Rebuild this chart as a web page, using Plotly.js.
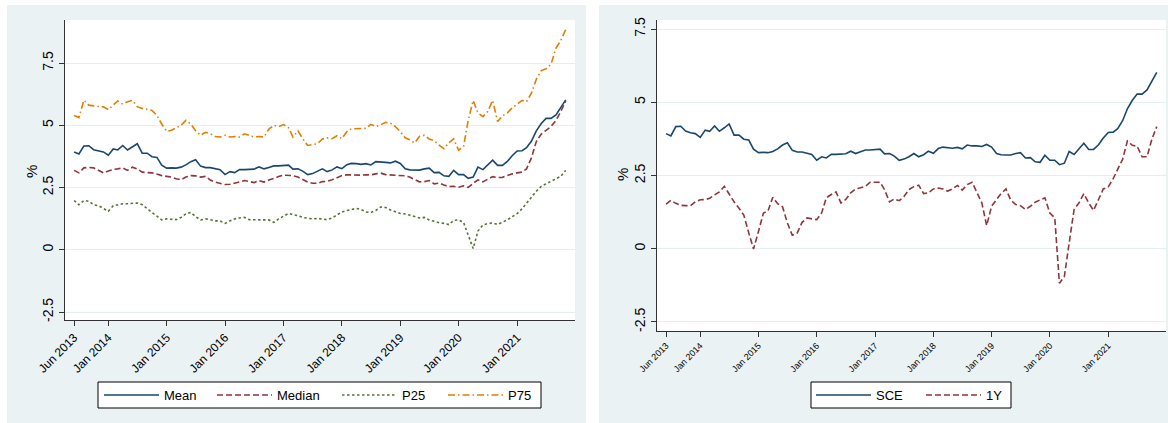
<!DOCTYPE html>
<html>
<head>
<meta charset="utf-8">
<script src="https://cdn.plot.ly/plotly-3.0.1.min.js"></script>
<style>html,body{margin:0;padding:0;background:#fff;}#chart{width:1168px;height:423px;}</style>
</head>
<body>
<div id="chart"></div>
<script>
// ---- data ----
const startYear = 2013, startMonth = 6, nMonths = 102; // Jun 2013 .. Nov 2021
const tickDates = ['2013-06-01','2014-01-01','2015-01-01','2016-01-01','2017-01-01','2018-01-01','2019-01-01','2020-01-01','2021-01-01'];
const tickLabels = ['Jun 2013','Jan 2014','Jan 2015','Jan 2016','Jan 2017','Jan 2018','Jan 2019','Jan 2020','Jan 2021'];
const yTickVals = [-2.5, 0, 2.5, 5, 7.5];
const yTickText = ['-2.5', '0', '2.5', '5', '7.5'];
const leftNames = ['Mean', 'Median', 'P25', 'P75'];
const rightNames = ['SCE', '1Y'];
const yTitle = '%';

const meanVals = [3.93,3.85,4.17,4.18,4.02,3.96,3.93,3.80,4.05,4.01,4.19,4.01,4.13,4.26,3.88,3.88,3.74,3.71,3.40,3.28,
  3.29,3.28,3.32,3.41,3.54,3.62,3.36,3.30,3.30,3.27,3.22,3.02,3.14,3.10,3.22,3.22,3.22,3.24,3.33,3.25,
  3.31,3.37,3.37,3.39,3.40,3.24,3.25,3.16,3.02,3.06,3.14,3.25,3.14,3.21,3.33,3.26,3.42,3.47,3.46,3.43,
  3.46,3.41,3.54,3.51,3.51,3.49,3.56,3.47,3.25,3.21,3.20,3.20,3.25,3.28,3.10,3.11,2.97,2.95,3.19,3.02,
  3.02,2.87,2.92,3.32,3.22,3.41,3.60,3.39,3.39,3.55,3.78,3.97,3.98,4.10,4.37,4.78,5.07,5.28,5.28,5.42,
  5.70,6.02];
const medianVals = [3.19,3.09,3.29,3.31,3.29,3.19,3.09,3.16,3.23,3.25,3.29,3.19,3.32,3.25,3.12,3.10,3.09,3.04,2.98,2.95,
  2.92,2.85,2.81,2.92,2.98,2.97,2.92,2.95,2.80,2.72,2.67,2.62,2.63,2.68,2.73,2.78,2.74,2.70,2.78,2.72,
  2.80,2.88,2.94,3.00,3.00,2.98,2.92,2.82,2.72,2.67,2.67,2.74,2.75,2.81,2.89,2.98,3.01,3.00,3.00,3.00,
  3.01,3.01,3.05,3.08,3.02,3.01,3.00,2.98,2.97,2.92,2.81,2.73,2.74,2.78,2.65,2.68,2.60,2.54,2.55,2.51,
  2.57,2.51,2.67,2.81,2.73,2.85,2.94,2.90,2.91,2.98,3.05,3.09,3.12,3.25,3.70,4.35,4.65,4.80,4.95,5.20,
  5.55,5.98];
const p25Vals = [1.98,1.81,1.98,1.95,1.81,1.77,1.66,1.55,1.77,1.81,1.85,1.85,1.88,1.88,1.81,1.64,1.50,1.35,1.20,1.24,
  1.24,1.21,1.30,1.44,1.50,1.33,1.20,1.24,1.21,1.16,1.16,1.06,1.16,1.24,1.28,1.30,1.21,1.20,1.20,1.20,
  1.20,1.10,1.24,1.34,1.46,1.41,1.37,1.30,1.28,1.24,1.26,1.22,1.21,1.28,1.40,1.52,1.58,1.62,1.66,1.62,
  1.52,1.50,1.58,1.72,1.70,1.60,1.54,1.46,1.44,1.40,1.34,1.28,1.30,1.20,1.14,1.09,1.06,1.01,1.18,1.20,
  1.10,0.55,0.05,0.75,1.00,1.05,1.08,1.02,1.10,1.20,1.33,1.45,1.65,1.88,2.10,2.35,2.55,2.65,2.75,2.85,
  2.95,3.19];
const p75Vals = [5.40,5.31,6.01,5.81,5.78,5.76,5.74,5.63,5.80,5.98,5.85,5.95,6.00,5.75,5.68,5.64,5.60,5.40,5.05,4.76,
  4.80,4.90,5.00,5.20,5.05,4.78,4.60,4.72,4.66,4.55,4.53,4.60,4.53,4.55,4.53,4.66,4.60,4.53,4.55,4.53,
  4.85,5.00,4.95,5.03,4.90,4.53,4.78,4.46,4.19,4.23,4.26,4.45,4.50,4.46,4.58,4.47,4.75,4.86,4.87,4.90,
  4.88,5.04,4.95,5.02,5.12,5.08,4.95,4.75,4.50,4.42,4.29,4.55,4.60,4.45,4.39,4.20,4.06,4.30,4.46,4.00,
  4.15,5.20,6.00,5.50,5.35,5.55,6.00,5.15,5.38,5.50,5.70,5.85,6.00,5.95,6.30,6.85,7.20,7.27,7.45,8.10,
  8.40,8.85];
const sceVals = [3.93,3.85,4.17,4.18,4.02,3.96,3.93,3.80,4.05,4.01,4.19,4.01,4.13,4.26,3.88,3.88,3.74,3.71,3.40,3.28,
  3.29,3.28,3.32,3.41,3.54,3.62,3.36,3.30,3.30,3.27,3.22,3.02,3.14,3.10,3.22,3.22,3.22,3.24,3.33,3.25,
  3.31,3.37,3.37,3.39,3.40,3.24,3.25,3.16,3.02,3.06,3.14,3.25,3.14,3.21,3.33,3.26,3.42,3.47,3.46,3.43,
  3.46,3.41,3.54,3.51,3.51,3.49,3.56,3.47,3.25,3.21,3.20,3.20,3.25,3.28,3.10,3.11,2.97,2.95,3.19,3.02,
  3.02,2.87,2.92,3.32,3.22,3.41,3.60,3.39,3.39,3.55,3.78,3.97,3.98,4.10,4.37,4.78,5.07,5.28,5.28,5.42,
  5.70,6.02];
const oneYVals = [1.52,1.65,1.55,1.48,1.47,1.47,1.60,1.67,1.68,1.72,1.84,1.94,2.13,1.85,1.60,1.38,1.15,0.54,-0.01,0.59,
  1.22,1.28,1.76,1.54,1.43,0.88,0.46,0.54,0.90,1.05,1.03,0.99,1.22,1.74,1.85,1.94,1.56,1.68,1.91,2.04,
  2.08,2.13,2.27,2.28,2.27,2.02,1.60,1.70,1.64,1.78,2.02,2.12,2.17,1.88,1.91,2.04,2.07,2.04,1.97,2.04,
  2.16,2.00,2.19,2.27,1.91,1.56,0.79,1.45,1.68,1.88,2.04,1.66,1.51,1.47,1.34,1.45,1.59,1.68,1.74,1.22,
  1.05,-1.18,-0.95,0.19,1.34,1.56,1.88,1.56,1.31,1.68,2.04,2.11,2.39,2.71,3.05,3.68,3.53,3.50,3.14,3.14,
  3.73,4.17];

// month axis values (Jun 2013 onward, monthly)
const months = [];
for (let k = 0; k < nMonths; k++) {
  const m = startMonth - 1 + k;
  const yy = startYear + Math.floor(m / 12), mm = (m % 12) + 1;
  months.push(yy + '-' + String(mm).padStart(2, '0') + '-01');
}

// ---- styling ----
const W = 1168, H = 423;
const navy = '#1a476f', maroon = '#90353b', green = '#55752f', orange = '#e37e00';
const panelBg = '#eaf2f3', gridCol = '#e6eeef', axisCol = '#333333';
const FONT = 'Liberation Sans, Arial, sans-serif';
const px = v => v / W, py = v => 1 - v / H;

const leftDom = {x: [px(65), px(575)], y: [py(320), py(20)]};
const rightDom = {x: [px(657), px(1166)], y: [py(331), py(20)]};

function line(y, name, color, dash, xa, ya, leg) {
  return {x: months, y: y, name: name, type: 'scatter', mode: 'lines',
    line: {color: color, width: 1.6, dash: dash}, xaxis: xa, yaxis: ya, legend: leg,
    hoverinfo: 'skip'};
}
const traces = [
  line(meanVals, leftNames[0], navy, 'solid', 'x', 'y', 'legend'),
  line(medianVals, leftNames[1], maroon, '6px,3px', 'x', 'y', 'legend2'),
  line(p25Vals, leftNames[2], green, '2.5px,2.5px', 'x', 'y', 'legend3'),
  line(p75Vals, leftNames[3], orange, '7px,3px,1.5px,3px', 'x', 'y', 'legend4'),
  line(sceVals, rightNames[0], navy, 'solid', 'x2', 'y2', 'legend5'),
  line(oneYVals, rightNames[1], maroon, '6px,3px', 'x2', 'y2', 'legend6')
];

function xax(dom, anchor, fs) {
  return {domain: dom, anchor: anchor, type: 'date', range: ['2013-04-05', '2021-12-29'],
    tickmode: 'array', tickvals: tickDates, ticktext: tickLabels, tickangle: -45,
    ticks: 'outside', ticklen: 5, tickwidth: 1, tickcolor: axisCol,
    showline: true, linecolor: axisCol, linewidth: 1, showgrid: false, zeroline: false,
    tickfont: {family: FONT, size: fs, color: '#000'}};
}
function yax(dom, anchor, rng) {
  return {domain: dom, anchor: anchor, range: rng, tickmode: 'array', tickvals: yTickVals, ticktext: yTickText,
    tickangle: -90, ticks: 'outside', ticklen: 5, tickwidth: 1, tickcolor: axisCol,
    showline: true, linecolor: axisCol, linewidth: 1, showgrid: true, gridcolor: gridCol, gridwidth: 1,
    zeroline: false, tickfont: {family: FONT, size: 14, color: '#000'}};
}
// one legend per entry so each entry sits where the reference puts it
function legendAt(xpix) {
  return {x: px(xpix), xanchor: 'left', y: py(395), yanchor: 'middle', orientation: 'h',
    bgcolor: 'rgba(0,0,0,0)', borderwidth: 0, itemwidth: 55,
    font: {family: FONT, size: 13, color: '#000'}};
}

const layout = {
  width: W, height: H, margin: {l: 0, r: 0, t: 0, b: 0},
  paper_bgcolor: '#ffffff', plot_bgcolor: '#ffffff', showlegend: true,
  font: {family: FONT, color: '#000'},
  xaxis: xax(leftDom.x, 'y', 12),
  yaxis: yax(leftDom.y, 'x', [-2.82, 9.23]),
  xaxis2: xax(rightDom.x, 'y2', 9),
  yaxis2: yax(rightDom.y, 'x2', [-2.81, 7.81]),
  legend: legendAt(99),
  legend2: legendAt(212),
  legend3: legendAt(337),
  legend4: legendAt(443),
  legend5: legendAt(811),
  legend6: legendAt(921),
  annotations: [
    {xref: 'paper', yref: 'paper', x: px(32), y: py(172), text: yTitle, showarrow: false, textangle: -90,
      xanchor: 'center', yanchor: 'middle', font: {family: FONT, size: 15, color: '#000'}},
    {xref: 'paper', yref: 'paper', x: px(622), y: py(175), text: yTitle, showarrow: false, textangle: -90,
      xanchor: 'center', yanchor: 'middle', font: {family: FONT, size: 15, color: '#000'}}
  ],
  shapes: [
    {type: 'rect', xref: 'paper', yref: 'paper', x0: px(7), x1: px(586), y0: 0, y1: py(5), fillcolor: panelBg, line: {width: 0}, layer: 'below'},
    {type: 'rect', xref: 'paper', yref: 'paper', x0: px(599), x1: 1, y0: 0, y1: py(5), fillcolor: panelBg, line: {width: 0}, layer: 'below'},
    {type: 'rect', xref: 'paper', yref: 'paper', x0: leftDom.x[0], x1: leftDom.x[1], y0: leftDom.y[0], y1: leftDom.y[1], fillcolor: '#ffffff', line: {width: 0}, layer: 'below'},
    {type: 'rect', xref: 'paper', yref: 'paper', x0: rightDom.x[0], x1: rightDom.x[1], y0: rightDom.y[0], y1: rightDom.y[1], fillcolor: '#ffffff', line: {width: 0}, layer: 'below'},
    // legend frames
    {type: 'rect', xref: 'paper', yref: 'paper', x0: px(98), x1: px(541), y0: py(408), y1: py(382), fillcolor: '#ffffff', line: {color: '#000', width: 1}, layer: 'above'},
    {type: 'rect', xref: 'paper', yref: 'paper', x0: px(811), x1: px(1011), y0: py(408), y1: py(382), fillcolor: '#ffffff', line: {color: '#000', width: 1}, layer: 'above'}
  ]
};

Plotly.newPlot('chart', traces, layout, {staticPlot: true, displayModeBar: false});
</script>
</body>
</html>
